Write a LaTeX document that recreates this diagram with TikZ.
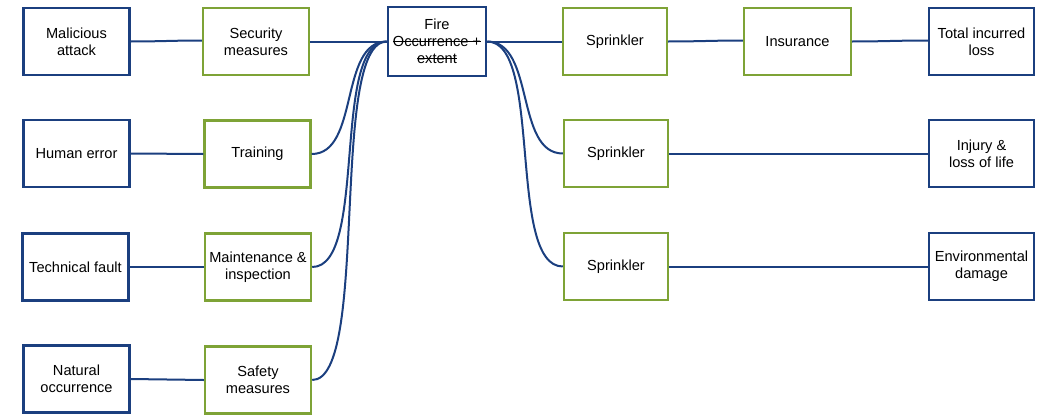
\documentclass[tikz,border=0pt]{standalone}
\usepackage{fontspec}
\setmainfont{Liberation Sans}
\newsavebox{\strkbox}
\newcommand{\mystrike}[1]{\sbox{\strkbox}{#1}\rlap{\rule[0.3em]{\wd\strkbox}{0.9pt}}\usebox{\strkbox}}
\definecolor{bblue}{HTML}{1B3F7F}
\definecolor{ggreen}{HTML}{7EA336}
\tikzset{
  box/.style={draw, line width=2.4pt, fill=white, minimum width=106pt, minimum height=67pt,
    inner sep=0pt, align=center, font=\fontsize{14.6}{17}\selectfont, text=black},
  bbox/.style={box, draw=bblue},
  gbox/.style={box, draw=ggreen},
  conn/.style={draw=bblue, line width=2pt},
}
\begin{document}
\begin{tikzpicture}[x=1pt,y=-1pt]
\useasboundingbox (0,0) rectangle (1040,415);
% left causes
\node[bbox] (ma) at (76.5,41.5) {Malicious\\attack};
\node[bbox] (he) at (76.5,153.5) {Human error};
\node[bbox] (tf) at (75.5,267) {Technical fault};
\node[bbox] (no) at (76.5,379) {Natural\\occurrence};
% barriers
\node[gbox] (sec) at (256,41.5) {Security\\measures};
\node[gbox] (tr) at (257.5,154) {Training};
\node[gbox] (mi) at (258,267) {Maintenance \&\\inspection};
\node[gbox] (sm) at (258,380) {Safety\\measures};
% fire
\node[bbox, minimum width=98pt, minimum height=69pt] (fire) at (437,41.5) {Fire\\\mystrike{Occurrence +}\\\mystrike{extent}};
% sprinklers
\node[gbox, minimum width=104pt] (s1) at (615,41.5) {Sprinkler};
\node[gbox, minimum width=104pt] (s2) at (616,153.5) {Sprinkler};
\node[gbox, minimum width=104pt] (s3) at (616,266.5) {Sprinkler};
\node[gbox, minimum width=107pt] (ins) at (797.5,41.5) {Insurance};
% consequences
\node[bbox, minimum width=105pt] (til) at (981.5,41.5) {Total incurred\\loss};
\node[bbox, minimum width=105pt] (inj) at (981.5,153.5) {Injury \&\\loss of life};
\node[bbox, minimum width=105pt] (env) at (981.5,266.5) {Environmental\\damage};
% connectors left
\draw[conn] (ma.east) to[out=0,in=180] ([yshift=1pt]sec.west);
\draw[conn] (he.east) -- (tr.west);
\draw[conn] (tf.east) -- (mi.west);
\draw[conn] (no.east) -- (sm.west);
\draw[conn] (sec.east) -- (fire.west);
\draw[conn] (tr.east) to[out=0,in=180,distance=48pt] (fire.west);
\draw[conn] (mi.east) to[out=0,in=180,distance=56pt] (fire.west);
\draw[conn] (sm.east) to[out=0,in=180,distance=58pt] (fire.west);
% connectors right
\draw[conn] (fire.east) -- (s1.west);
\draw[conn] (fire.east) to[out=0,in=180,distance=48pt] (s2.west);
\draw[conn] (fire.east) to[out=0,in=180,distance=56pt] (s3.west);
\draw[conn] (s1.east) to[out=0,in=180] ([yshift=1pt]ins.west);
\draw[conn] (ins.east) to[out=0,in=180] ([yshift=1pt]til.west);
\draw[conn] (s2.east) -- (inj.west);
\draw[conn] (s3.east) -- (env.west);
\end{tikzpicture}
\end{document}
